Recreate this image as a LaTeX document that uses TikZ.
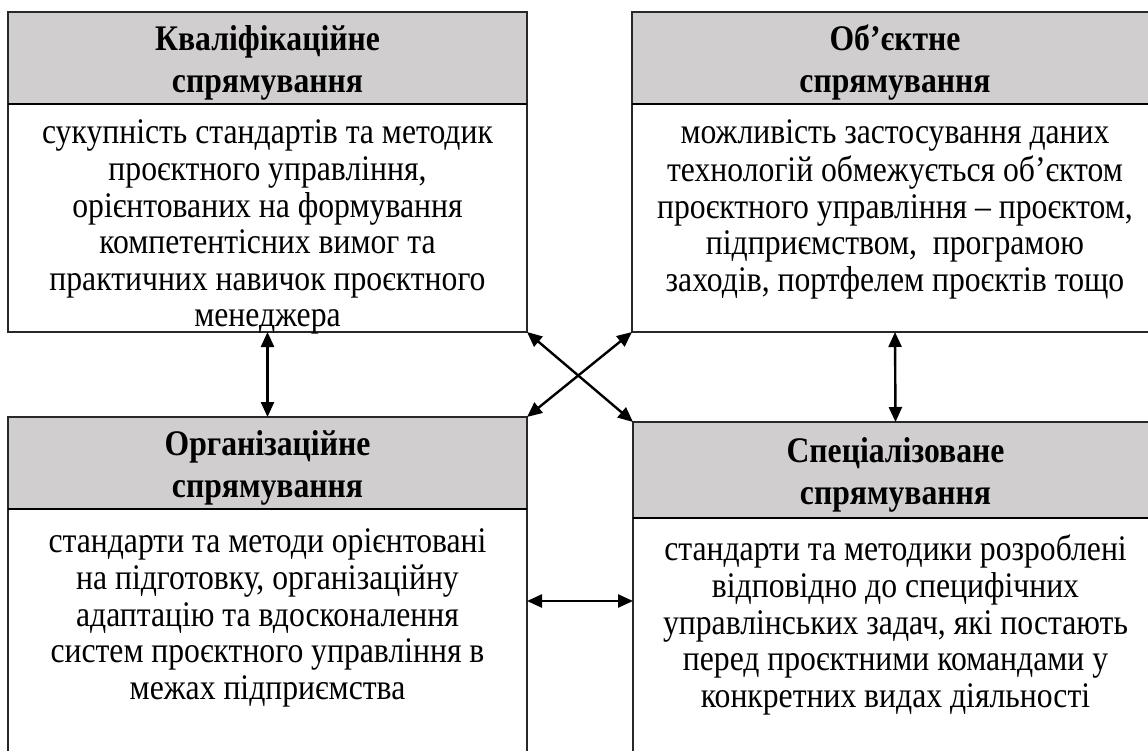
\documentclass[tikz,border=0pt]{standalone}
\usepackage{fontspec}
\setmainfont{Liberation Serif}[FakeStretch=0.88]
\usetikzlibrary{arrows.meta}
\definecolor{headgray}{RGB}{208,206,207}
\definecolor{edge}{RGB}{40,40,40}
\begin{document}
\begin{tikzpicture}[x=1pt,y=-1pt,
  frame/.style={draw=edge, line width=1.3pt, inner sep=0pt, outer sep=0pt},
  headbox/.style={frame, fill=headgray},
  headtext/.style={inner sep=0pt, align=center, yshift=-5pt,
    font=\bfseries\fontsize{36}{42}\selectfont},
  bodybox/.style={frame, fill=white},
  bodytext/.style={inner sep=0pt, anchor=north, align=center,
    font=\fontsize{36}{36.6}\selectfont},
  split/.style={draw=black, line width=2pt},
  link/.style={line width=2.4pt,
    {Triangle[length=15pt,width=13pt]}-{Triangle[length=15pt,width=13pt]}}
]
\useasboundingbox (0,0) rectangle (1148,751);
\clip (0,0) rectangle (1148,751);

% bodies of the four blocks
\node[bodybox, minimum width=519pt, minimum height=228pt] (tlbody) at (267.5,218) {};
\node[bodybox, minimum width=526pt, minimum height=228pt] (trbody) at (895,218) {};
\node[bodybox, minimum width=519pt, minimum height=261pt] (blbody) at (267.5,639.5) {};
\node[bodybox, minimum width=525pt, minimum height=252pt] (brbody) at (895.5,644) {};

% grey title bars
\node[headbox, minimum width=519pt, minimum height=92pt] (tlhead) at (267.5,58) {};
\node[headbox, minimum width=526pt, minimum height=92pt] (trhead) at (895,58) {};
\node[headbox, minimum width=519pt, minimum height=92pt] (blhead) at (267.5,463) {};
\node[headbox, minimum width=525pt, minimum height=96pt] (brhead) at (895.5,470) {};

\draw[split] (tlhead.south west) -- (tlhead.south east);
\draw[split] (trhead.south west) -- (trhead.south east);
\draw[split] (blhead.south west) -- (blhead.south east);
\draw[split] (brhead.south west) -- (brhead.south east);

% titles
\node[headtext] (tltitle) at (tlhead.center) {Кваліфікаційне\\спрямування};
\node[headtext] (trtitle) at (trhead.center) {Об’єктне\\спрямування};
\node[headtext] (bltitle) at (blhead.center) {Організаційне\\спрямування};
\node[headtext] (brtitle) at (brhead.center) {Спеціалізоване\\спрямування};

% descriptions
\node[bodytext] (tltext) at (267.5,118) {\strut сукупність стандартів та методик\\
  проєктного управління,\\ орієнтованих на формування\\ компетентісних вимог та\\
  практичних навичок проєктного\\ менеджера};
\node[bodytext] (trtext) at (895,118) {\strut можливість застосування даних\\
  технологій обмежується об’єктом\\ проєктного управління – проєктом,\\
  підприємством,\ \ програмою\\ заходів, портфелем проєктів тощо};
\node[bodytext] (bltext) at (267.5,527) {\strut стандарти та методи орієнтовані\\
  на підготовку, організаційну\\ адаптацію та вдосконалення\\
  систем проєктного управління в\\ межах підприємства};
\node[bodytext] (brtext) at (895.5,535) {\strut стандарти та методики розроблені\\
  відповідно до специфічних\\ управлінських задач, які постають\\
  перед проєктними командами у\\ конкретних видах діяльності};

% links between the blocks
\draw[link] (tlbody.south) -- (blhead.north);
\draw[link] (trbody.south) -- (brhead.north);
\draw[link] (tlbody.south east) -- (brhead.north west);
\draw[link] (trbody.south west) -- (blhead.north east);
\coordinate (hlevel) at (580,601);
\draw[link] (hlevel -| blbody.east) -- (hlevel -| brbody.west);
\end{tikzpicture}
\end{document}
